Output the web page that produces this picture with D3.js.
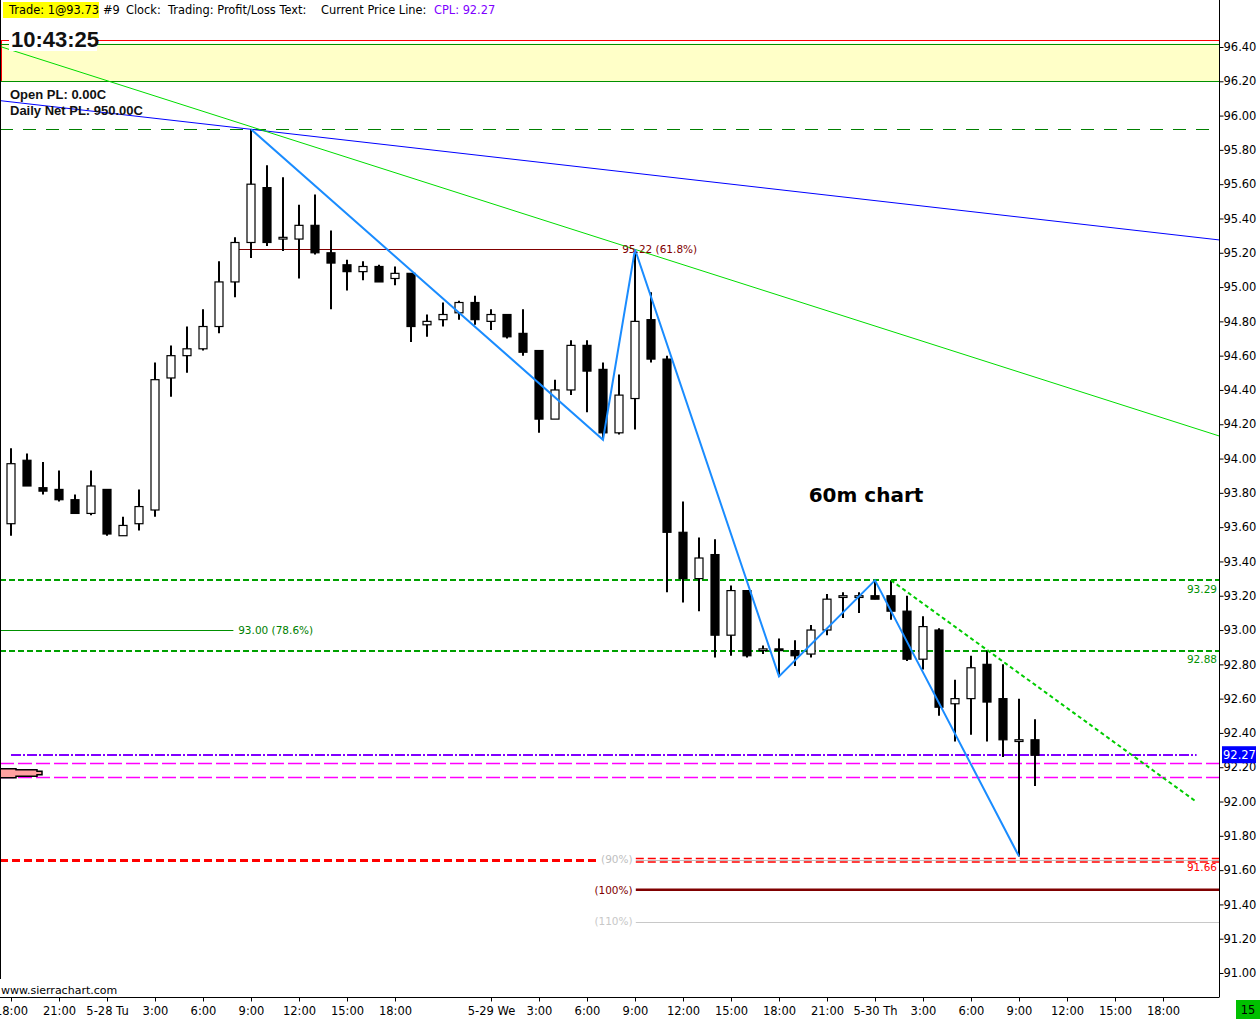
<!DOCTYPE html>
<html>
<head>
<meta charset="utf-8">
<script src="https://cdn.jsdelivr.net/npm/d3@7"></script>
<style>
  html, body { margin: 0; padding: 0; background: #fff; }
  svg { display: block; font-family: "DejaVu Sans", sans-serif; }
</style>
</head>
<body>
<script>
const W = 1260, H = 1019;
const plotRight = 1219, plotBottom = 997;

// hourly bars, index 0 = 5-27 18:00
const opens  = [93.62,93.99,93.83,93.82,93.76,93.68,93.82,93.55,93.62,93.70,94.47,94.60,94.64,94.77,95.03,95.26,95.58,95.28,95.28,95.36,95.20,95.13,95.09,95.12,95.05,95.08,94.78,94.81,94.85,94.91,94.80,94.84,94.73,94.63,94.23,94.40,94.66,94.52,94.15,94.35,94.81,94.58,93.57,93.30,93.44,92.97,93.23,92.88,92.89,92.88,92.86,93.00,93.19,93.19,93.20,93.20,93.11,92.83,93.00,92.57,92.60,92.80,92.60,92.35,92.36];
const highs  = [94.06,94.03,93.98,93.93,93.79,93.93,93.82,93.66,93.82,94.56,94.66,94.77,94.87,95.15,95.29,95.92,95.71,95.64,95.48,95.54,95.33,95.16,95.15,95.13,95.12,95.08,94.84,94.91,94.92,94.95,94.87,94.84,94.87,94.63,94.46,94.69,94.69,94.56,94.49,95.22,94.97,94.60,93.75,93.54,93.53,93.26,93.23,92.91,92.95,92.94,93.03,93.21,93.22,93.22,93.29,93.29,93.20,93.08,93.01,92.71,92.85,92.88,92.80,92.60,92.48];
const lows   = [93.55,93.84,93.79,93.75,93.68,93.67,93.55,93.55,93.58,93.66,94.36,94.50,94.63,94.73,94.94,95.17,95.24,95.21,95.05,95.19,94.87,94.98,95.04,95.03,95.01,94.68,94.71,94.77,94.81,94.78,94.75,94.70,94.60,94.15,94.23,94.37,94.27,94.11,94.14,94.17,94.56,93.22,93.16,93.11,92.84,92.85,92.84,92.86,92.73,92.79,92.84,92.97,93.07,93.10,93.18,93.06,92.82,92.77,92.50,92.35,92.39,92.35,92.26,91.68,92.09];
const closes = [93.97,93.84,93.81,93.76,93.68,93.84,93.56,93.61,93.72,94.46,94.60,94.64,94.77,95.03,95.26,95.60,95.26,95.29,95.36,95.20,95.14,95.09,95.12,95.03,95.08,94.77,94.80,94.84,94.91,94.81,94.84,94.71,94.62,94.23,94.40,94.66,94.51,94.15,94.37,94.80,94.58,93.57,93.30,93.42,92.97,93.23,92.85,92.89,92.88,92.85,93.00,93.18,93.20,93.20,93.18,93.11,92.83,93.02,92.55,92.60,92.78,92.58,92.36,92.36,92.27];

// zigzag swing points
const zigBars   = [15, 37, 39, 48, 54, 63];
const zigPrices = [95.92, 94.11, 95.22, 92.73, 93.29, 91.68];

// price axis
const priceTicks = [91.00,91.20,91.40,91.60,91.80,92.00,92.20,92.40,92.60,92.80,93.00,93.20,93.40,93.60,93.80,94.00,94.20,94.40,94.60,94.80,95.00,95.20,95.40,95.60,95.80,96.00,96.20,96.40];

// time axis
const timeTickBars   = [0, 3, 6, 9, 12, 15, 18, 21, 24, 30, 33, 36, 39, 42, 45, 48, 51, 54, 57, 60, 63, 66, 69, 72];
const timeTickLabels = ["18:00","21:00","5-28 Tu","3:00","6:00","9:00","12:00","15:00","18:00","5-29 We","3:00","6:00","9:00","12:00","15:00","18:00","21:00","5-30 Th","3:00","6:00","9:00","12:00","15:00","18:00"];

// trade zone
const zoneTop = 96.42, zoneBottom = 96.20, zoneRed = 96.44;
const swingHigh = 95.92;
// trendlines: [bar, price] pairs
const blueLine  = [[15, 95.92], [75.5, 95.275]];
const greenLine = [[39, 95.22], [75.5, 94.132]];
const downDash  = [[55, 93.29], [74.06, 92.00]];
// retracement / extension levels
const fibHigh = 95.22, fibHighLabel = "95.22  (61.8%)";
const fibLow = 93.00, fibLowLabel = "93.00  (78.6%)";
const supportLevels = [93.29, 92.88];
const extLevels = [91.66, 91.485, 91.30];
const extLabels = ["(90%)", "(100%)", "(110%)"];
const currentPrice = 92.27;
const orderLevels = [92.225, 92.145];

const x = d3.scaleLinear().domain([0, 64]).range([11, 11 + 64 * 16]);
const y = d3.scaleLinear().domain([91, 96.4]).range([973, 47]);
const xLeft = x.invert(0), xRight = x.invert(plotRight);
const crisp = v => Math.round(v) + 0.5;

const svg = d3.select("body").append("svg").attr("width", W).attr("height", H);
svg.append("rect").attr("width", W).attr("height", H).attr("fill", "#fff");
svg.append("clipPath").attr("id", "plot").append("rect")
   .attr("x", 0).attr("y", 0).attr("width", plotRight).attr("height", plotBottom);
const g = svg.append("g").attr("clip-path", "url(#plot)");

// yellow trade zone
g.append("rect").attr("x", 0).attr("y", y(zoneTop)).attr("width", plotRight)
 .attr("height", y(zoneBottom) - y(zoneTop)).attr("fill", "#ffffc8");
g.append("line").attr("x1", 0).attr("x2", plotRight).attr("y1", crisp(y(zoneRed))).attr("y2", crisp(y(zoneRed)))
 .attr("stroke", "#ff0000");
g.append("line").attr("x1", 1.5).attr("x2", 1.5).attr("y1", y(zoneRed)).attr("y2", y(zoneBottom)).attr("stroke", "#ff0000");
[zoneTop, zoneBottom].forEach(p => {
  g.append("line").attr("x1", 0).attr("x2", plotRight).attr("y1", crisp(y(p))).attr("y2", crisp(y(p)))
   .attr("stroke", "#009000").attr("stroke-width", 1.2);
});

// swing high dashed
g.append("line").attr("x1", 0).attr("x2", plotRight).attr("y1", crisp(y(swingHigh))).attr("y2", crisp(y(swingHigh)))
 .attr("stroke", "#008000").attr("stroke-dasharray", "13,10");

// fib 61.8 line
g.append("line").attr("x1", x(14)).attr("x2", x(37.94)).attr("y1", crisp(y(fibHigh))).attr("y2", crisp(y(fibHigh)))
 .attr("stroke", "#800000");
// fib 78.6 line
g.append("line").attr("x1", 0).attr("x2", x(13.9)).attr("y1", crisp(y(fibLow))).attr("y2", crisp(y(fibLow)))
 .attr("stroke", "#009000");

// support dashed levels
g.selectAll("line.sup").data(supportLevels).join("line").attr("class", "sup")
 .attr("x1", 0).attr("x2", plotRight).attr("y1", d => Math.round(y(d))).attr("y2", d => Math.round(y(d)))
 .attr("stroke", "#00a000").attr("stroke-width", 2).attr("stroke-dasharray", "6,3");

// order lines (magenta)
const orderG = g.append("g").attr("stroke", "magenta").attr("fill", "none");
orderLevels.forEach(p => {
  orderG.append("path")
    .attr("d", `M0,${crisp(y(p))}H${plotRight}`)
    .attr("stroke", "magenta").attr("stroke-width", 1.5).attr("stroke-dasharray", "14,4");
});

// extension levels
const y90 = Math.round(y(extLevels[0]));
g.append("line").attr("x1", 0).attr("x2", x(36.7)).attr("y1", y90 + 0.5).attr("y2", y90 + 0.5)
 .attr("stroke", "#ff0000").attr("stroke-width", 3).attr("stroke-dasharray", "8,4");
g.append("line").attr("x1", x(39.05)).attr("x2", plotRight).attr("y1", y90 + 0.5).attr("y2", y90 + 0.5)
 .attr("stroke", "#c0c0c0");
[-1.5, 2].forEach(off => {
  g.append("line").attr("x1", x(39.05)).attr("x2", plotRight).attr("y1", y90 + off).attr("y2", y90 + off)
   .attr("stroke", "#ff0000").attr("stroke-width", 1.3).attr("stroke-dasharray", "8,4");
});
g.append("line").attr("x1", x(39.05)).attr("x2", plotRight).attr("y1", y(extLevels[1])).attr("y2", y(extLevels[1]))
 .attr("stroke", "#800000").attr("stroke-width", 2.5);
g.append("line").attr("x1", x(39.05)).attr("x2", plotRight).attr("y1", crisp(y(extLevels[2]))).attr("y2", crisp(y(extLevels[2])))
 .attr("stroke", "#c8c8c8");
const extColors = ["#c0c0c0", "#800000", "#c8c8c8"];
g.selectAll("text.ext").data(extLevels).join("text").attr("class", "ext")
 .attr("x", x(38.85)).attr("y", d => y(d)).attr("dy", "0.35em").attr("text-anchor", "end")
 .attr("font-size", 10.5).attr("fill", (d, i) => extColors[i]).text((d, i) => extLabels[i]);

// trendlines across the chart
function extend(pts) {
  const [[b0, p0], [b1, p1]] = pts;
  const k = (p1 - p0) / (b1 - b0);
  return [[xLeft, p0 + (xLeft - b0) * k], [xRight, p0 + (xRight - b0) * k]];
}
const lineGen = d3.line().x(d => x(d[0])).y(d => y(d[1]));
g.append("path").attr("d", lineGen(extend(blueLine))).attr("fill", "none").attr("stroke", "#0000ff");
g.append("path").attr("d", lineGen(extend(greenLine))).attr("fill", "none").attr("stroke", "#00dd00");

// current price line
g.append("line").attr("x1", x(0)).attr("x2", x(74.1)).attr("y1", Math.round(y(currentPrice))).attr("y2", Math.round(y(currentPrice)))
 .attr("stroke", "#8000ff").attr("stroke-width", 2).attr("stroke-dasharray", "10,2,2,2");

// candles
const idx = d3.range(opens.length);
const candles = g.append("g");
candles.selectAll("line").data(idx).join("line")
  .attr("x1", i => x(i)).attr("x2", i => x(i))
  .attr("y1", i => y(highs[i])).attr("y2", i => y(lows[i]))
  .attr("stroke", "#000").attr("stroke-width", 2);
candles.selectAll("rect").data(idx).join("rect")
  .attr("x", i => x(i) - 4).attr("width", 8)
  .attr("y", i => y(Math.max(opens[i], closes[i])))
  .attr("height", i => Math.max(1, y(Math.min(opens[i], closes[i])) - y(Math.max(opens[i], closes[i]))))
  .attr("fill", i => closes[i] >= opens[i] ? "#fff" : "#000")
  .attr("stroke", "#000").attr("stroke-width", 1.2);

// zigzag
g.append("path").attr("d", d3.line().x(d => x(d)).y((d, i) => y(zigPrices[i]))(zigBars))
 .attr("fill", "none").attr("stroke", "#1a8cff").attr("stroke-width", 2);

// falling dashed trendline
g.append("path").attr("d", lineGen(downDash)).attr("fill", "none")
 .attr("stroke", "#00cc00").attr("stroke-width", 2).attr("stroke-dasharray", "4,3");

// level labels
g.append("text").attr("x", x(38.2)).attr("y", y(fibHigh)).attr("dy", "0.35em")
 .attr("font-size", 10.5).attr("fill", "#800000").text(fibHighLabel);
g.append("text").attr("x", x(14.2)).attr("y", y(fibLow)).attr("dy", "0.35em")
 .attr("font-size", 10.5).attr("fill", "#008000").text(fibLowLabel);
g.selectAll("text.sup").data(supportLevels).join("text").attr("class", "sup")
 .attr("x", 1217).attr("y", d => y(d) + 9).attr("dy", "0.35em").attr("text-anchor", "end")
 .attr("font-size", 10.5).attr("fill", "#009000").text(d => d.toFixed(2));
g.append("text").attr("x", 1217).attr("y", y(extLevels[0]) + 8).attr("dy", "0.35em").attr("text-anchor", "end")
 .attr("font-size", 10.5).attr("fill", "#ff0000").text(extLevels[0].toFixed(2));

// trade marker (pencil)
const my = y(orderLevels[1]) - 4;
g.append("path")
 .attr("d", `M0,${my - 4} L16,${my - 4} L16,${my - 3} L37,${my - 3} L37,${my - 1.5} L42,${my - 1.5} L42,${my + 2} L37,${my + 2} L37,${my + 3.5} L16,${my + 3.5} L16,${my + 5} L0,${my + 5} Z`)
 .attr("fill", "#ffa0a0").attr("stroke", "#000").attr("stroke-width", 1.5);

// chart title
g.append("text").attr("x", 866).attr("y", 495).attr("dy", "0.35em").attr("text-anchor", "middle")
 .attr("font-size", 20).attr("font-weight", "bold").attr("fill", "#000").text("60m chart");

// header bar
const header = [
  { t: "Trade: 1@93.73", x: 9, c: "#000", bg: "#ffff00" },
  { t: "#9", x: 103, c: "#000" },
  { t: "Clock:", x: 126, c: "#000" },
  { t: "Trading: Profit/Loss Text:", x: 168, c: "#000" },
  { t: "Current Price Line:", x: 321, c: "#000" },
  { t: "CPL: 92.27", x: 434, c: "#8000ff" }
];
header.forEach(h => {
  if (h.bg) svg.append("rect").attr("x", 3).attr("y", 2).attr("width", 96).attr("height", 16).attr("fill", h.bg);
  svg.append("text").attr("x", h.x).attr("y", 14).attr("font-size", 11.4).attr("fill", h.c).text(h.t);
});

// clock
const sansBold = "'Liberation Sans', Arial, sans-serif";
svg.append("rect").attr("x", 9).attr("y", 29).attr("width", 88).attr("height", 22).attr("fill", "#fff");
svg.append("text").attr("x", 11).attr("y", 47).style("font-family", sansBold)
 .attr("font-size", 22).attr("font-weight", "bold").attr("fill", "#111").text("10:43:25");

// P/L text
svg.append("text").attr("x", 10).attr("y", 99).style("font-family", sansBold)
 .attr("font-size", 13).attr("font-weight", "bold").attr("fill", "#111").text("Open PL: 0.00C");
svg.append("text").attr("x", 10).attr("y", 115).style("font-family", sansBold)
 .attr("font-size", 13).attr("font-weight", "bold").attr("fill", "#111").text("Daily Net PL: 950.00C");

// left border
svg.append("line").attr("x1", 0.5).attr("x2", 0.5).attr("y1", 0).attr("y2", 979).attr("stroke", "#000");
svg.append("text").attr("x", 1).attr("y", 990).attr("dy", "0.35em").attr("font-size", 11).attr("fill", "#000")
 .text("www.sierrachart.com");

// price axis
const yAxis = d3.axisRight(y).tickValues(priceTicks).tickFormat(d3.format(".2f")).tickSize(4).tickSizeOuter(0);
const ya = svg.append("g").attr("transform", `translate(${plotRight + 0.5},0)`).call(yAxis);
ya.select(".domain").remove();
ya.selectAll("text").attr("font-size", 11.5).style("font-family", "'DejaVu Sans', sans-serif").attr("fill", "#000").attr("x", 4);
svg.append("line").attr("x1", plotRight + 0.5).attr("x2", plotRight + 0.5).attr("y1", 0).attr("y2", plotBottom).attr("stroke", "#000");

// current price box
svg.append("rect").attr("x", 1222).attr("y", y(currentPrice) - 9).attr("width", 34).attr("height", 17).attr("fill", "#0000ff");
svg.append("text").attr("x", 1223).attr("y", y(currentPrice)).attr("dy", "0.35em").attr("font-size", 11.5)
 .attr("fill", "#fff").text(currentPrice.toFixed(2));

// time axis
const xAxis = d3.axisBottom(x).tickValues(timeTickBars).tickFormat((d, i) => timeTickLabels[i]).tickSize(4).tickSizeOuter(0);
const xa = svg.append("g").attr("transform", `translate(0,${plotBottom + 0.5})`).call(xAxis);
xa.select(".domain").remove();
xa.selectAll("text").attr("font-size", 11.5).style("font-family", "'DejaVu Sans', sans-serif").attr("fill", "#000").attr("y", 9);
svg.append("line").attr("x1", 0).attr("x2", plotRight + 0.5).attr("y1", plotBottom + 0.5).attr("y2", plotBottom + 0.5).attr("stroke", "#000");

// bottom-right box
svg.append("rect").attr("x", 1236).attr("y", 1000).attr("width", 24).attr("height", 19).attr("fill", "#00c000");
svg.append("text").attr("x", 1248).attr("y", 1010).attr("dy", "0.35em").attr("text-anchor", "middle")
 .attr("font-size", 11.5).attr("fill", "#000").text("15");
</script>
</body>
</html>
